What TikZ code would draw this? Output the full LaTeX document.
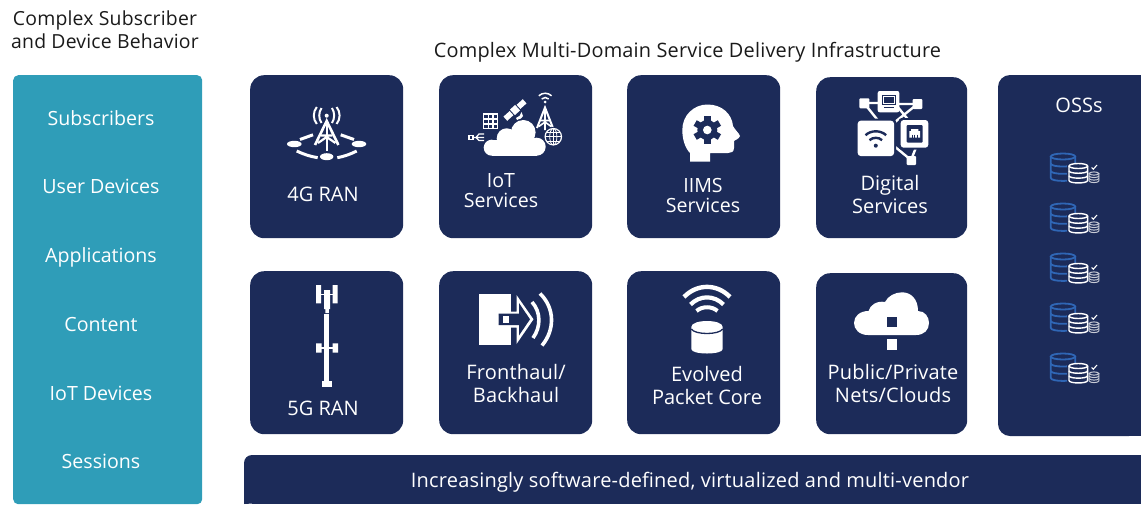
\documentclass[tikz,border=0pt]{standalone}
\usepackage{fontspec}
\setmainfont{Open Sans}
\newfontfamily\widefont[LetterSpace=1]{Open Sans}
\definecolor{navy}{HTML}{1C2B59}
\definecolor{teal2}{HTML}{2F9DB8}
\definecolor{dbblue}{HTML}{2F66B5}
\definecolor{inktext}{HTML}{1A1A1A}
\tikzset{
  card/.style={fill=navy,draw=none,rounded corners=14pt,inner sep=0pt,minimum width=153pt,minimum height=163pt,anchor=north west},
  lab/.style={text=white,align=center,inner sep=0pt,font=\fontsize{20}{22.5}\selectfont},
  leftlab/.style={lab,font=\fontsize{19.6}{22.5}\selectfont},
  widelab/.style={lab,font=\widefont\fontsize{20}{22.5}\selectfont},
  tightlab/.style={lab,font=\fontsize{19.6}{20}\selectfont},
  blab/.style={text=inktext,align=center,inner sep=0pt,font=\widefont\fontsize{19.4}{23}\selectfont},
  wl/.style={draw=white,line width=2pt,fill=none},
  wt/.style={draw=white,line width=3pt,fill=none},
}
% cylinder: cx, top y, rx, ry, height, colour, line width
\newcommand{\cylstack}[7]{%
  \begin{scope}[draw=#6,line width=#7pt,fill=none]
    \draw (#1,#2) ellipse [x radius=#3pt,y radius=#4pt];
    \draw (#1-#3,#2) -- (#1-#3,#2+#5) .. controls (#1-#3,#2+#5+#4*1.3) and (#1+#3,#2+#5+#4*1.3) .. (#1+#3,#2+#5) -- (#1+#3,#2);
    \draw (#1-#3,#2+#5*0.33) .. controls (#1-#3,#2+#5*0.33+#4*1.3) and (#1+#3,#2+#5*0.33+#4*1.3) .. (#1+#3,#2+#5*0.33);
    \draw (#1-#3,#2+#5*0.67) .. controls (#1-#3,#2+#5*0.67+#4*1.3) and (#1+#3,#2+#5*0.67+#4*1.3) .. (#1+#3,#2+#5*0.67);
  \end{scope}}
\newcommand{\dbicon}[1]{%
  \begin{scope}[yshift=-#1pt]
    \cylstack{1063}{156.5}{12.2}{3}{21.5}{dbblue}{1.8}
    \fill[navy] (1067,163) rectangle (1089,186);
    \cylstack{1078.3}{166}{9.3}{2.5}{14.5}{white}{1.4}
    \cylstack{1094}{173.5}{4.8}{1.6}{7.5}{white!75!navy}{1}
    \draw[white,line width=1.1pt] (1091.6,167.5) -- (1093.3,169.2) -- (1097,165);
  \end{scope}}
\begin{document}
\begin{tikzpicture}[x=1pt,y=-1pt]
\useasboundingbox (0,0) rectangle (1141,504);
% teal column
\node[fill=teal2,draw=none,rounded corners=5pt,inner sep=0pt,minimum width=189pt,minimum height=429pt,anchor=north west] (col) at (13,75) {};
% bottom bar and OSS panel run off the page
\fill[navy,rounded corners=8pt] (244,504) -- (244,455) -- (1141,455);
\fill[navy] (252,455) rectangle (1141,504);
\fill[navy,rounded corners=12pt] (1141,75) -- (998,75) -- (998,436) -- (1141,436) -- cycle;
\fill[navy] (1020,75) rectangle (1141,436);
% cards
\node[card] (c4g) at (250,75) {};
\node[card] (ciot) at (439,75) {};
\node[card] (ciims) at (627,75) {};
\node[card,minimum width=151pt,minimum height=161pt] (cdig) at (816,77) {};
\node[card] (c5g) at (250,271) {};
\node[card] (cfh) at (439,271) {};
\node[card] (cepc) at (627,271) {};
\node[card,minimum width=151pt,minimum height=161pt] (cpub) at (816,273) {};
% headings
\node[blab] (hleft) at (105,29.5) {Complex Subscriber\\and Device Behavior};
\node[blab,font=\widefont\fontsize{19.9}{23}\selectfont] (hmain) at (687.5,52) {Complex Multi-Domain Service Delivery Infrastructure};
% left labels
\node[leftlab] (l1) at (101,118) {Subscribers};
\node[leftlab] (l2) at (101,186) {User Devices};
\node[leftlab] (l3) at (101,257) {Applications};
\node[leftlab] (l4) at (101,324) {Content};
\node[leftlab] (l5) at (101,393) {IoT Devices};
\node[leftlab] (l6) at (101,461) {Sessions};
% card labels
\node[lab] (t4g) at (323,194) {4G RAN};
\node[tightlab] (tiot) at (501,190.5) {IoT\\Services};
\node[tightlab] (tiims) at (703,195.5) {IIMS\\Services};
\node[lab] (tdig) at (890,194.5) {Digital\\Services};
\node[lab] (t5g) at (323,408) {5G RAN};
\node[widelab] (tfh) at (516,383.5) {Fronthaul/\\Backhaul};
\node[lab] (tepc) at (707,385.5) {Evolved\\Packet Core};
\node[widelab] (tpub) at (893,383.5) {Public/Private\\Nets/Clouds};
\node[lab] (toss) at (1079,105) {OSSs};
\node[widelab] (tbar) at (690,482) {Increasingly software-defined, virtualized and multi-vendor};
% ---- 4G icon
\fill[white] (326.7,115.7) circle [radius=2pt];
\draw[wl] (321.5,108) .. controls (318.5,112) and (318.5,119) .. (321.5,123);
\draw[wl] (316.8,107) .. controls (312.8,112) and (312.8,119) .. (316.8,124);
\draw[wl] (331.9,108) .. controls (334.9,112) and (334.9,119) .. (331.9,123);
\draw[wl] (336.6,107) .. controls (340.6,112) and (340.6,119) .. (336.6,124);
\draw[white,line width=2.6pt,line join=miter] (315,145) -- (326.7,121) -- (338.4,145);
\draw[white,line width=2.4pt] (326.7,121) -- (326.7,151);
\draw[white,line width=2.2pt] (321,135.5) -- (332.4,135.5) (318,143) -- (326.7,137) -- (335.4,143);
\fill[white] (294.3,144) ellipse [x radius=7.3pt,y radius=3.2pt];
\fill[white] (359,144) ellipse [x radius=7.3pt,y radius=3.2pt];
\fill[white] (326.7,156.7) ellipse [x radius=6.7pt,y radius=3.5pt];
\draw[wt] (300,139.5) -- (313,134.8);
\draw[wt] (340.7,134.8) -- (354,139.5);
\draw[wt] (296.7,151) .. controls (303,154) and (310,156.5) .. (317.7,157.7);
\draw[wt] (337.3,157.7) .. controls (344,156.5) and (351,154) .. (356.7,151);
% ---- IoT icon
\fill[white] (482.7,113.3) rectangle (498.3,129.3);
\foreach \i in {0,1,2}{\foreach \j in {0,1,2}{\fill[navy] (484.3+\i*4.8,115+\j*4.9) rectangle (487.5+\i*4.8,118.2+\j*4.9);}}
\begin{scope}[shift={(515,110)},rotate=42]
  \fill[white] (-13,-2.8) rectangle (-4.7,2.8) (-3.5,-3.7) rectangle (3.5,3.7) (4.7,-2.8) rectangle (13,2.8);
\end{scope}
\fill[white] (516,118) .. controls (519,117) and (521,115) .. (521.5,112) -- (523,116) .. controls (521,119) and (519,120) .. (517,120) -- cycle;
\fill[navy] (523.3,132.3) circle [radius=13.6pt];
\fill[navy] (506.7,138.3) circle [radius=11.3pt];
% cloud as overlapping lobes
\fill[white] (491.7,147.7) circle [radius=8pt] (506.7,138.3) circle [radius=10pt] (523.3,132.3) circle [radius=12.3pt] (536.7,146.7) circle [radius=9pt];
\fill[white] (491.7,140) rectangle (536.7,155.7);
% tower
\draw[white,line width=2pt] (537,128) -- (545,107.5) -- (553,128);
\draw[white,line width=1.6pt] (545,107.5) -- (545,130) (540.5,120.5) -- (549.5,120.5) (538.8,126.5) -- (545,122) -- (551.2,126.5);
\fill[white] (545.2,102) circle [radius=1.5pt];
\draw[white,line width=1.5pt] (541.7,99) .. controls (543.7,97) and (546.7,97) .. (548.7,99);
\draw[white,line width=1.5pt] (538.8,95.8) .. controls (542.5,92.4) and (547.9,92.4) .. (551.6,95.8);
\fill[navy] (553.3,136.7) circle [radius=9.8pt];
\draw[white,line width=1.2pt] (553.3,136.7) circle [radius=8.2pt];
\draw[white,line width=0.8pt] (553.3,136.7) ellipse [x radius=3.6pt,y radius=8.2pt];
\draw[white,line width=0.8pt] (553.3,128.5) -- (553.3,144.9) (545,136.7) -- (561.5,136.7) (546.5,132) -- (560.1,132) (546.5,141.4) -- (560.1,141.4);
\fill[white] (468.3,134.8) rectangle (474,140);
\fill[navy] (470,136.2) rectangle (472.3,138.6);
\draw[white,line width=1.2pt] (474,137.4) -- (484,137.4) (476,137.4) -- (479,134) -- (484,134) (476,137.4) -- (479,140.5) -- (484,140.5);
% ---- IIMS icon
\fill[white] (690,161.7) -- (690,153) .. controls (685,148) and (682.3,139) .. (682.3,130) .. controls (682.3,115) and (694,104.5) .. (707.5,104.5) .. controls (722,104.5) and (732,114) .. (733,126) .. controls (735,130) and (739,133) .. (740,136) .. controls (739,139) and (735,140) .. (734,141) -- (734,148) .. controls (734,152) and (731,153) .. (728,153) -- (710,153) -- (710,161.7) -- cycle;
\fill[navy] (707.3,130) circle [radius=10pt];
\foreach \a in {90,30,150}{\fill[navy,shift={(707.3,130)},rotate=\a] (-14,-3.2) rectangle (14,3.2);}
\fill[white] (707.3,130) circle [radius=4.3pt];
% ---- Digital icon
\draw[white,line width=2.4pt] (864,103) -- (884,128) (864,103) -- (880,103) (917.5,104) -- (895,122) (917.5,104) -- (898,104) (892,100) -- (915,128) (894,146) -- (911,160) (917,145) -- (911,160);
\fill[white,rounded corners=2pt] (877.7,91) rectangle (899.3,112.3);
\fill[navy] (881.7,95) rectangle (896,105);
\draw[white,line width=0.8pt] (883,96.3) rectangle (894.7,103.7);
\fill[navy] (884,107) rectangle (893.7,108);
\fill[white,rounded corners=1pt] (859.3,98.3) rectangle (869.3,108.3);
\fill[white,rounded corners=1pt] (912.7,99) rectangle (922.3,109);
\fill[white,rounded corners=1pt] (906.7,156) rectangle (916,165);
\fill[navy,rounded corners=3pt] (855.7,118.7) rectangle (896,158);
\fill[white,rounded corners=3pt] (857.7,120.7) rectangle (894,156);
\fill[navy] (875.8,145.7) circle [radius=2pt];
\draw[navy,line width=2.4pt] (869.5,140.2) .. controls (873,137) and (878.6,137) .. (882.1,140.2);
\draw[navy,line width=2.4pt] (865.5,135.2) .. controls (871,130) and (880.6,130) .. (886.1,135.2);
\fill[navy,rounded corners=3pt] (898.7,118) rectangle (930.3,149.7);
\fill[white,rounded corners=3pt] (900.7,120) rectangle (928.3,147.7);
\fill[navy,rounded corners=1pt] (906.7,125) rectangle (922.7,142.7);
\fill[white] (911,129) -- (918.4,129) -- (918.4,131) -- (920,131) -- (920,137.5) -- (909.4,137.5) -- (909.4,131) -- (911,131) -- cycle;
\draw[navy,line width=0.6pt] (912.5,134.5) -- (912.5,137.5) (914.7,134.5) -- (914.7,137.5) (916.9,134.5) -- (916.9,137.5);
% ---- 5G icon
\fill[white] (316,285) rectangle (321,303.3) (332.7,285) rectangle (337.7,303.3);
\fill[white] (324.2,290) rectangle (330,309) (325.4,309) rectangle (328.8,313);
\draw[white,line width=0.8pt] (321,294) -- (333,294);
\fill[white] (324.4,314) rectangle (329.2,381);
\fill[white] (322,380.7) rectangle (332,386.7);
\fill[white] (316,343.3) rectangle (321.7,352.7) (332.7,343.3) rectangle (338,352.7);
\fill[white] (321,347) rectangle (333,349);
% ---- Fronthaul icon
\fill[white] (479.3,294.3) rectangle (510.7,345);
\fill[white] (510,311.5) -- (516.5,311.5) -- (516.5,295) -- (533.5,319.3) -- (516.5,344) -- (516.5,327.5) -- (510,327.5) -- cycle;
\fill[navy] (498.5,313.5) -- (519,313.5) -- (519,303) -- (530,319.3) -- (519,335.5) -- (519,325) -- (498.5,325) -- cycle;
\fill[white] (503.3,316.3) rectangle (509.3,322.8);
\fill[white] (492.3,315.7) rectangle (494.3,323.3) (496,315.7) rectangle (498,323.3);
\draw[white,line width=3.6pt] (532,302) .. controls (541,312) and (541,327) .. (533,338);
\draw[white,line width=3.6pt] (540,293.5) .. controls (555,308) and (555,330) .. (542,345.5);
% ---- EPC icon
\draw[white,line width=4.4pt] (684,297) .. controls (697,283.5) and (717,283.5) .. (730,297);
\draw[white,line width=4.2pt] (690.5,304.5) .. controls (700,295) and (714,295) .. (723.5,304.5);
\draw[white,line width=4pt] (696.5,311) .. controls (702,306) and (712,306) .. (717.5,311);
\fill[white] (691.3,327) .. controls (691.3,319) and (722.7,319) .. (722.7,327) -- (722.7,349) .. controls (722.7,355) and (691.3,355) .. (691.3,349) -- cycle;
\draw[navy,line width=1.3pt] (691.3,329) .. controls (695,335) and (719,335) .. (722.7,329);
% ---- Public cloud icon
\fill[white] (868,335) .. controls (859,335) and (854,329) .. (854,323) .. controls (854,316) and (860,311) .. (868.5,311) .. controls (870,305) and (877,300.5) .. (885,302) .. controls (888,296) and (895,292.3) .. (902,292.3) .. controls (911,292.3) and (918,299) .. (918,311) .. controls (925,311) and (929,317) .. (929,323) .. controls (929,330) and (924,335) .. (916,335) -- cycle;
\fill[navy] (887.3,316.7) rectangle (897.3,326.7);
\fill[white] (887.3,339.3) rectangle (897.3,350);
% ---- OSS database icons
\dbicon{0}\dbicon{50}\dbicon{100}\dbicon{150}\dbicon{200}
\end{tikzpicture}
\end{document}
